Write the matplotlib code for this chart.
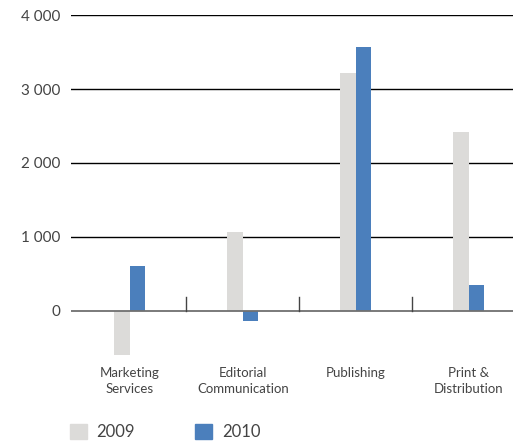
import matplotlib.pyplot as plt
from matplotlib.patches import Patch

categories = ["Marketing\nServices", "Editorial\nCommunication", "Publishing", "Print &\nDistribution"]
series_names = ["2009", "2010"]
values_2009 = [-600, 1060, 3220, 2420]
values_2010 = [610, -145, 3575, 350]
yticks = [0, 1000, 2000, 3000, 4000]
ytick_labels = ["0", "1 000", "2 000", "3 000", "4 000"]

grey = "#dcdbd9"
blue = "#4b7fbc"
text_col = "#444444"

plt.rcParams['font.family'] = ['Lato', 'DejaVu Sans']

fig = plt.figure(figsize=(5.13, 4.43), dpi=100)
ax = fig.add_axes([0.1384, 0.182, 1 - 0.1384, 0.7835])

x = list(range(len(categories)))
w = 0.137
ax.bar([i - w / 2 for i in x], values_2009, width=w, color=grey, zorder=2)
ax.bar([i + w / 2 for i in x], values_2010, width=w, color=blue, zorder=2)

# horizontal grid, zero line drawn separately in grey
for v in yticks[1:]:
    ax.axhline(v, color="black", lw=1, zorder=1)
ax.axhline(0, color="#707070", lw=1.3, zorder=3)

# small separators between the groups
for s in [0.5, 1.5, 2.5]:
    ax.plot([s, s], [0, 190], color="#444444", lw=1, zorder=3)

ax.set_xlim(-0.52, 3.39)
ax.set_ylim(-700, 4000)
ax.set_yticks(yticks)
ax.set_yticklabels(ytick_labels, fontsize=11, color=text_col)
ax.set_xticks(x)
ax.set_xticklabels(categories, fontsize=9.5, color=text_col, linespacing=1.45)
ax.tick_params(axis="y", length=0, pad=8)
ax.tick_params(axis="x", length=0, pad=3)
for sp in ax.spines.values():
    sp.set_visible(False)

handles = [Patch(color=grey), Patch(color=blue)]
fig.legend(handles, series_names, loc="lower left", bbox_to_anchor=(0.107, -0.027),
           ncol=2, frameon=False, fontsize=12, handlelength=1.0, handleheight=1.0,
           handletextpad=0.6, columnspacing=3.6, labelcolor=text_col)

fig.savefig("out.png", dpi=100)
